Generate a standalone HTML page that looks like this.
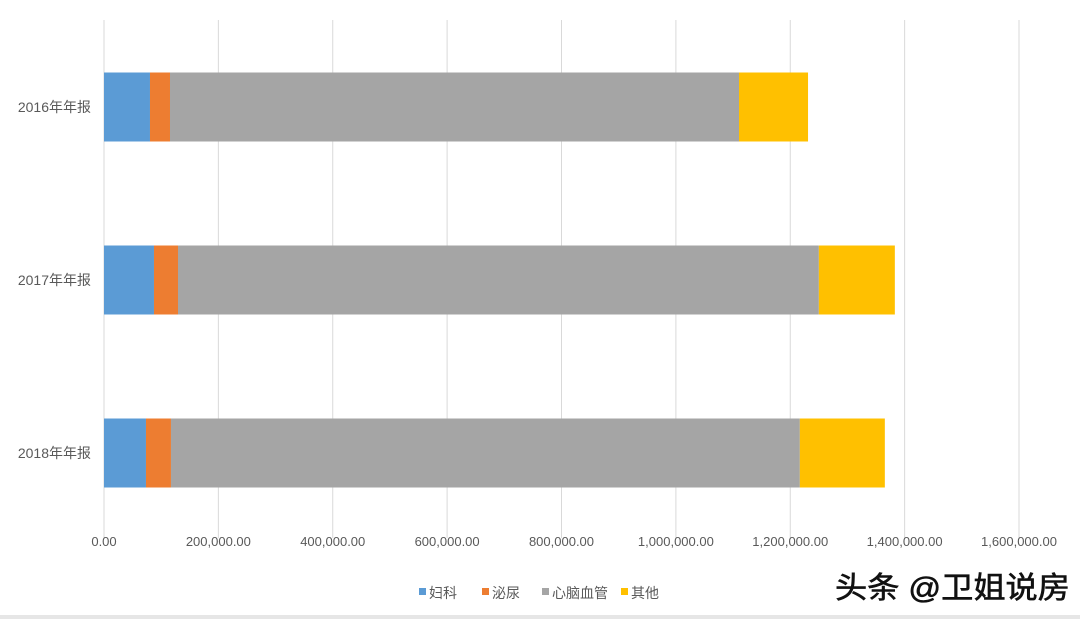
<!DOCTYPE html>
<html><head><meta charset="utf-8">
<style>
html,body{margin:0;padding:0;background:#fff;}
svg{display:block;font-family:"Liberation Sans","Noto Sans CJK SC",sans-serif;}
</style></head>
<body>
<svg id="chart" width="1080" height="619">
<rect x="0" y="0" width="1080" height="619" fill="#ffffff"/>
<rect x="0" y="615" width="1080" height="4" fill="#e6e6e6"/>
<g id="grid"></g>
<g id="bars"></g>
<g id="labels"></g>
<g id="legend"></g>
<text x="835" y="598" font-size="30" fill="#111" stroke="#111" stroke-width="0.6" textLength="235" lengthAdjust="spacingAndGlyphs">头条 @卫姐说房</text>
</svg>
<script>
const categories = ["2016年年报","2017年年报","2018年年报"];
const seriesNames = ["妇科","泌尿","心脑血管","其他"];
const seriesColors = ["#5b9bd5","#ed7d31","#a5a5a5","#ffc000"];
const fuke = [80400, 87400, 73400];
const miniao = [35000, 42000, 43700];
const xinnao = [995000, 1120600, 1099700];
const qita = [120700, 132900, 148600];
const ticks = [0,200000,400000,600000,800000,1000000,1200000,1400000,1600000];
const tickLabels = ["0.00","200,000.00","400,000.00","600,000.00","800,000.00","1,000,000.00","1,200,000.00","1,400,000.00","1,600,000.00"];

const NS="http://www.w3.org/2000/svg";
const x0=104, x1=1019, xmax=1600000;
const xs=v=>x0+(v/xmax)*(x1-x0);
const catTop=20, catH=173, barH=69;
const yc=i=>catTop+catH*i+catH/2+0.5;
function mk(tag,attrs,parent){const e=document.createElementNS(NS,tag);for(const k in attrs)e.setAttribute(k,attrs[k]);parent.appendChild(e);return e;}
const grid=document.getElementById('grid'), bars=document.getElementById('bars'), labels=document.getElementById('labels'), legend=document.getElementById('legend');
ticks.forEach((t,i)=>{
  const l=mk('line',{x1:xs(t),x2:xs(t),y1:20,y2:538,stroke:'#d9d9d9','stroke-width':1},grid);
  
  
  const tx=mk('text',{x:xs(t),y:546,'font-size':13,fill:'#595959','text-anchor':'middle'},labels);
  tx.textContent=tickLabels[i];
  
  
});
const series=[fuke,miniao,xinnao,qita];
categories.forEach((c,i)=>{
  let acc=0;
  series.forEach((s,j)=>{
    const r=mk('rect',{x:xs(acc),y:yc(i)-barH/2,width:xs(acc+s[i])-xs(acc),height:barH,fill:seriesColors[j]},bars);
    
    
    acc+=s[i];
  });
  const t=mk('text',{x:91,y:yc(i)+5,'font-size':14,fill:'#595959','text-anchor':'end'},labels);
  t.textContent=c;
  
  
});
const lx=[419,482,542,621];
seriesNames.forEach((n,j)=>{
  const g=mk('g',{},legend);
  
  
  mk('rect',{x:lx[j],y:588,width:7,height:7,fill:seriesColors[j]},g);
  const t=mk('text',{x:lx[j]+10,y:598,'font-size':14,fill:'#595959'},g);
  t.textContent=n;
});
</script>
</body></html>
